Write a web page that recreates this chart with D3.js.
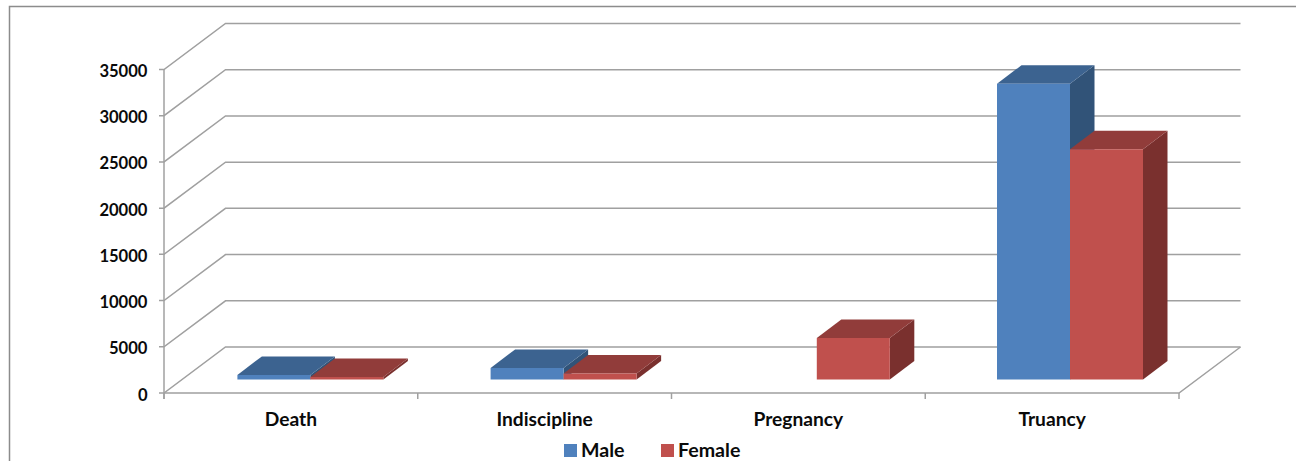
<!DOCTYPE html>
<html><head><meta charset="utf-8">
<script src="https://cdn.jsdelivr.net/npm/d3@7"></script>
<style>html,body{margin:0;padding:0;background:#fff;overflow:hidden}svg{display:block}
text{font-family:Lato,"Open Sans",sans-serif;font-weight:700;fill:#0a0a0a}</style>
</head><body><svg id="c" width="1296" height="461"></svg>
<script>
const categories = ["Death","Indiscipline","Pregnancy","Truancy"];
const seriesNames = ["Male","Female"];
const maleValues = [500,1250,0,32000];
const femaleValues = [270,650,4500,24900];
const yTicks = [0,5000,10000,15000,20000,25000,30000,35000];
const seriesColors = {
  Male:{front:"#4f81bd",top:"#3c6390",side:"#315378"},
  Female:{front:"#c0504d",top:"#913c3a",side:"#7a302e"}
};
const svg = d3.select("#c");
const x = d3.scaleBand().domain(categories).range([164,1179]);
const barX = d3.scaleBand().domain(categories).range([183.8,1196.6]);
const y = d3.scaleLinear().domain([0,35000]).range([393,69.5]);
const wall = {dx:61.5,dy:-46};
const bar = {offY:-13.5,w:73,dx:24.5,dy:-18.5};
const grid = "#a0a0a0";

// outer frame
svg.append("path").attr("d","M9.5,461V6.5H1296").attr("fill","none").attr("stroke","#8c8c8c").attr("stroke-width",1.5);

// walls
const gridG = svg.append("g").attr("fill","none").attr("stroke",grid).attr("stroke-width",1.5);
yTicks.forEach(t=>{
  gridG.append("path").attr("d",d3.line()([[159,y(t)],[164,y(t)],[164+wall.dx,y(t)+wall.dy],[1179+wall.dx,y(t)+wall.dy]]));
});
gridG.append("path").attr("d",d3.line()([[164,y(35000)],[164,y(0)+6]]));
gridG.append("path").attr("d",d3.line()([[164,y(0)],[1179,y(0)],[1179+wall.dx,y(0)+wall.dy]]));
d3.range(categories.length+1).forEach(i=>{
  const px = 164+i*x.bandwidth();
  gridG.append("path").attr("d",d3.line()([[px,y(0)],[px,y(0)+6]]));
});

// bars
const poly = (g,pts,fill)=>g.append("polygon").attr("points",pts.map(p=>p.join(",")).join(" ")).attr("fill",fill);
const barG = svg.append("g");
categories.forEach((c,i)=>{
  const cx = barX(c)+barX.bandwidth()/2;
  [maleValues[i],femaleValues[i]].forEach((v,s)=>{
    if(!v) return;
    const col = seriesColors[seriesNames[s]];
    const x0 = cx+(s-1)*bar.w, x1 = x0+bar.w;
    const yb = y(0)+bar.offY, yt = y(v)+bar.offY;
    poly(barG,[[x1,yb],[x1+bar.dx,yb+bar.dy],[x1+bar.dx,yt+bar.dy],[x1,yt]],col.side);
    poly(barG,[[x0,yt],[x1,yt],[x1+bar.dx,yt+bar.dy],[x0+bar.dx,yt+bar.dy]],col.top);
    poly(barG,[[x0,yb],[x1,yb],[x1,yt],[x0,yt]],col.front);
  });
});

// labels
svg.append("g").selectAll("text").data(yTicks).join("text")
  .attr("x",147.5).attr("y",d=>y(d)+7.5).attr("text-anchor","end").attr("font-size",16.6).text(d=>d);
svg.append("g").selectAll("text").data(categories).join("text")
  .attr("x",d=>x(d)+x.bandwidth()/2).attr("y",426).attr("text-anchor","middle").attr("font-size",19.2).text(d=>d);

// legend
const lx = d3.scaleOrdinal().domain(seriesNames).range([564,661]);
const leg = svg.append("g");
seriesNames.forEach(n=>{
  leg.append("rect").attr("x",lx(n)).attr("y",444).attr("width",13).attr("height",13).attr("fill",seriesColors[n].front);
  leg.append("text").attr("x",lx(n)+17).attr("y",457).attr("font-size",19.6).text(n);
});
</script></body></html>
